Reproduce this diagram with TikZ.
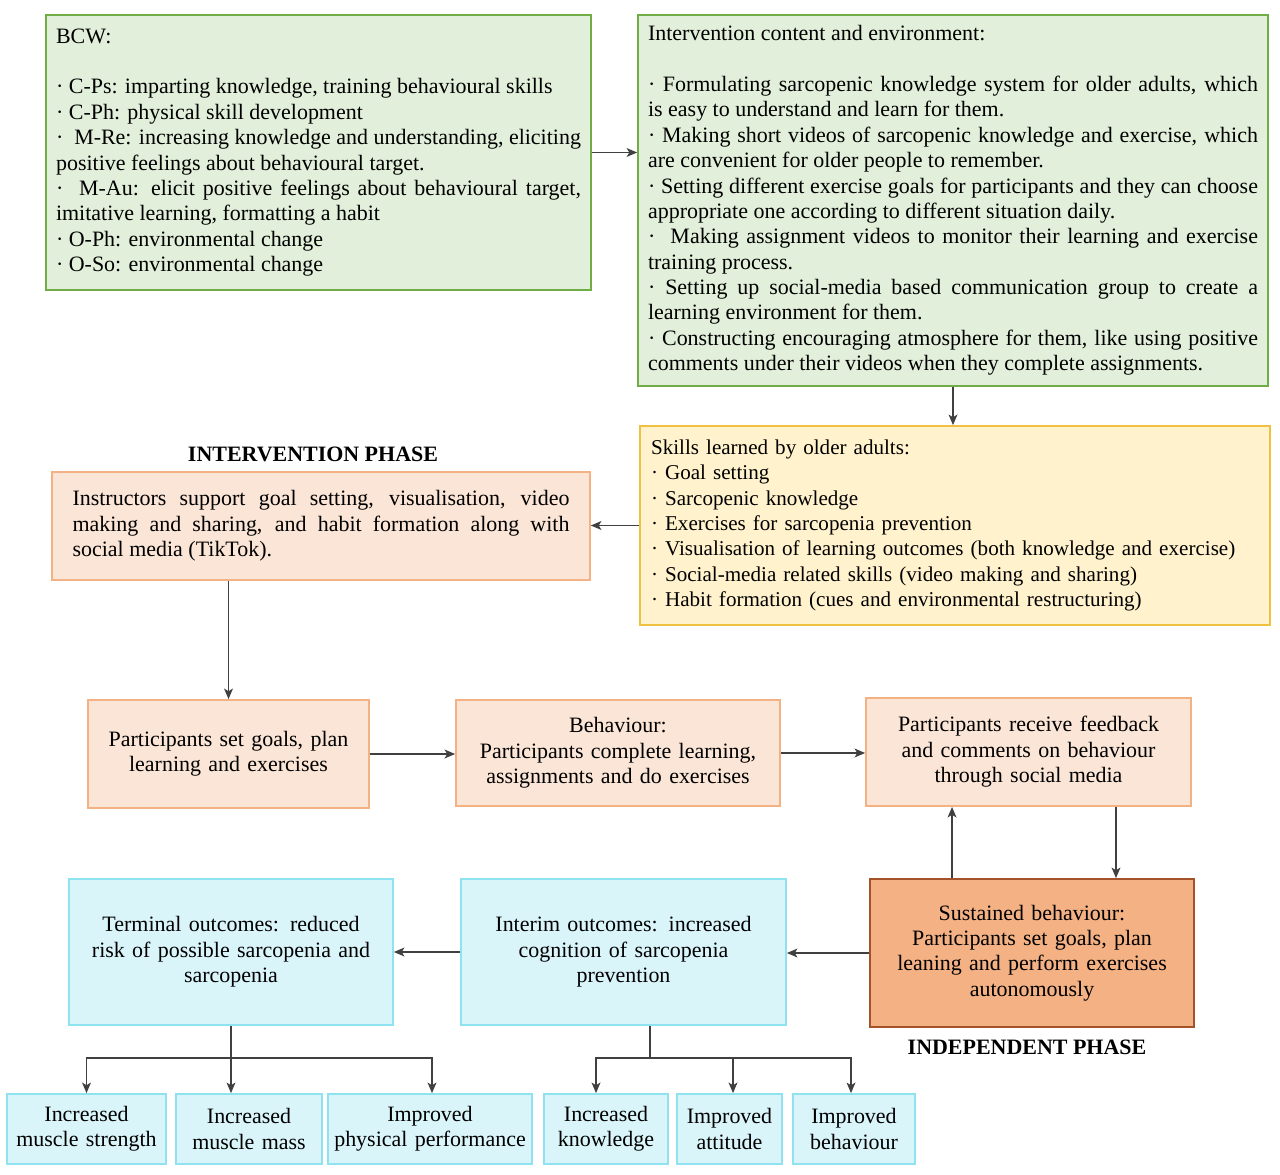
\documentclass[tikz,border=0pt]{standalone}
\usepackage{fontspec}
\setmainfont{Liberation Serif}
\usepackage{tikz}
\usetikzlibrary{arrows.meta,calc}
\definecolor{greenfill}{HTML}{E2EFDA}
\definecolor{greenline}{HTML}{70AD47}
\definecolor{yellowfill}{HTML}{FFF2CC}
\definecolor{yellowline}{HTML}{F0C040}
\definecolor{peachfill}{HTML}{FBE5D6}
\definecolor{peachline}{HTML}{F4B183}
\definecolor{sustfill}{HTML}{F4B183}
\definecolor{sustline}{HTML}{A5512A}
\definecolor{cyanfill}{HTML}{DAF5FA}
\definecolor{cyanline}{HTML}{8FE3F0}
\definecolor{arrowgray}{HTML}{404040}
\newcommand{\BOXTEXT}
{%
    \fontsize{12.5pt}{14.45pt}\selectfont\parindent=0pt%
}
\newcommand{\SKILLTEXT}
{%
    \fontsize{12pt}{14.45pt}\selectfont\parindent=0pt%
}
\tikzset{
  every box/.style={
    rectangle,line width=1pt,font=\BOXTEXT,inner ysep=0pt,
  },
  greenbox/.style={every box,draw=greenline,fill=greenfill,align=justify,inner xsep=0.2cm},
  yellowbox/.style={every box,draw=yellowline,fill=yellowfill,align=left,inner xsep=0.22cm,font=\SKILLTEXT},
  peachbox/.style={every box,draw=peachline,fill=peachfill,align=center,inner xsep=0.15cm},
  sustbox/.style={every box,draw=sustline,fill=sustfill,align=center,inner xsep=0.15cm},
  cyanbox/.style={every box,draw=cyanline,fill=cyanfill,align=center,inner xsep=0.1cm},
  phase/.style={font=\BOXTEXT\bfseries,inner sep=0pt},
  arrow/.style={draw=arrowgray,line width=0.9pt,-{Stealth[length=6pt,width=5pt,inset=1.5pt]}},
  plain/.style={draw=arrowgray,line width=0.9pt},
}
\begin{document}
\begin{tikzpicture}[x=0.02cm,y=-0.02cm]
        \useasboundingbox (0,0) rectangle (1280,1175);
        % intervention content
        \node[greenbox,text width=10.5cm,minimum height=5.5cm] (bcw) at (318.5,152.5) {%
            BCW:\par\strut\par
            · C-Ps: imparting knowledge, training behavioural skills\par
            · C-Ph: physical skill development\par
            ·\ \ M-Re: increasing knowledge and understanding, eliciting\linebreak
            positive feelings about behavioural target.\par
            ·\ \ M-Au: elicit positive feelings about behavioural target,\linebreak
            imitative learning, formatting a habit\par
            · O-Ph: environmental change\par
            · O-So: environmental change%
        };
        \node[greenbox,text width=12.2cm,minimum height=7.42cm] (cont) at (953,200.5) {%
            Intervention content and environment:\par\strut\par
            · Formulating sarcopenic knowledge system for older adults, which\linebreak
            is easy to understand and learn for them.\par
            · Making short videos of sarcopenic knowledge and exercise, which\linebreak
            are convenient for older people to remember.\par
            · Setting different exercise goals for participants and they can choose\linebreak
            appropriate one according to different situation daily.\par
            ·\ \ Making assignment videos to monitor their learning and exercise\linebreak
            training process.\par
            · Setting up social-media based communication group to create a\linebreak
            learning environment for them.\par
            · Constructing encouraging atmosphere for them, like using positive\linebreak
            comments under their videos when they complete assignments.%
        };
        \node[yellowbox,text width=12.16cm,minimum height=3.98cm] (skills) at (955,525.5) {%
            Skills learned by older adults:\\
            · Goal setting\\
            · Sarcopenic knowledge\\
            · Exercises for sarcopenia prevention\\
            · Visualisation of learning outcomes (both knowledge and exercise)\\
            · Social-media related skills (video making and sharing)\\
            · Habit formation (cues and environmental restructuring)%
        };
        % intervention phase
        \node[phase] (intphase) at (313,454) {INTERVENTION PHASE};
        \node[peachbox,align=justify,inner xsep=0.41cm,text width=9.94cm,minimum height=2.16cm] (instr) at (321,526) {%
            Instructors support goal setting, visualisation, video\linebreak
            making and sharing, and habit formation along with\linebreak
            social media (TikTok).%
        };
        \node[peachbox,text width=5.32cm,minimum height=2.16cm] (goals) at (228.5,754) {%
            Participants set goals, plan\\ learning and exercises%
        };
        \node[peachbox,text width=6.18cm,minimum height=2.12cm] (behav) at (618,753) {%
            Behaviour:\\ Participants complete learning,\\ assignments and do exercises%
        };
        \node[peachbox,text width=6.2cm,minimum height=2.16cm] (feedb) at (1028.5,752) {%
            Participants receive feedback\\ and comments on behaviour\\ through social media%
        };
        % independent phase
        \node[sustbox,text width=6.18cm,minimum height=2.96cm] (sust) at (1032,953) {%
            Sustained behaviour:\\ Participants set goals, plan\\ leaning and perform exercises\\ autonomously%
        };
        \node[phase] (indphase) at (1027,1047) {INDEPENDENT PHASE};
        % outcomes
        \node[cyanbox,text width=6.28cm,minimum height=2.92cm] (term) at (231,952) {%
            Terminal outcomes: reduced\\ risk of possible sarcopenia and\\ sarcopenia%
        };
        \node[cyanbox,text width=6.3cm,minimum height=2.92cm] (interim) at (623.5,952) {%
            Interim outcomes: increased\\ cognition of sarcopenia\\ prevention%
        };
        \node[cyanbox,text width=2.98cm,minimum height=1.4cm] (strength) at (86.5,1129) {Increased\\ muscle strength};
        \node[cyanbox,text width=2.72cm,minimum height=1.4cm] (mass) at (249,1129) {Increased\\ muscle mass};
        \node[cyanbox,text width=3.88cm,minimum height=1.4cm] (perf) at (430,1129) {Improved\\ physical performance};
        \node[cyanbox,text width=2.28cm,minimum height=1.4cm] (know) at (606,1129) {Increased\\ knowledge};
        \node[cyanbox,text width=1.9cm,minimum height=1.4cm] (attit) at (729.5,1129) {Improved\\ attitude};
        \node[cyanbox,text width=2.24cm,minimum height=1.4cm] (behv) at (854,1129) {Improved\\ behaviour};
        % connectors
        \draw[arrow] (bcw.east) -- (bcw.east -| cont.west);
        \draw[arrow] (cont.south) -- (cont.south |- skills.north);
        \draw[arrow] (skills.west) -- (skills.west -| instr.east);
        \draw[arrow] (goals.north |- instr.south) -- (goals.north);
        \draw[arrow] (goals.east) -- (goals.east -| behav.west);
        \draw[arrow] (behav.east) -- (behav.east -| feedb.west);
        \draw[arrow] ([xshift=-1.6cm]sust.north) -- ([xshift=-1.6cm]sust.north |- feedb.south);
        \draw[arrow] ([xshift=1.68cm]sust.north |- feedb.south) -- ([xshift=1.68cm]sust.north);
        \draw[arrow] (sust.west) -- (sust.west -| interim.east);
        \draw[arrow] (interim.west) -- (interim.west -| term.east);
        \coordinate (tbranch) at (231,1058);
        \coordinate (ibranch) at (650,1058);
        \draw[arrow] (term.south) -- (term.south |- mass.north);
        \draw[arrow] (tbranch) -| (strength.north);
        \draw[arrow] (tbranch) -| ([xshift=0.04cm]perf.north);
        \draw[plain] (interim.south -| ibranch) -- (ibranch);
        \draw[arrow] (ibranch) -| ([xshift=-0.2cm]know.north);
        \draw[arrow] (ibranch) -| ([xshift=0.07cm]attit.north);
        \draw[arrow] (ibranch) -| ([xshift=-0.06cm]behv.north);
    \end{tikzpicture}
\end{document}
